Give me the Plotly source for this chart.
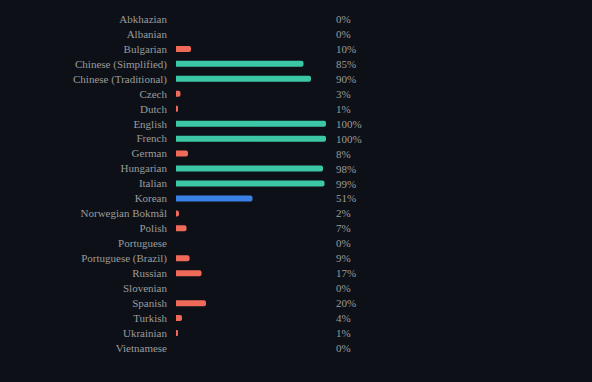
import plotly.graph_objects as go

languages = ["Abkhazian", "Albanian", "Bulgarian", "Chinese (Simplified)", "Chinese (Traditional)",
             "Czech", "Dutch", "English", "French", "German", "Hungarian", "Italian", "Korean",
             "Norwegian Bokmål", "Polish", "Portuguese", "Portuguese (Brazil)", "Russian",
             "Slovenian", "Spanish", "Turkish", "Ukrainian", "Vietnamese"]
percent = [0, 0, 10, 85, 90, 3, 1, 100, 100, 8, 98, 99, 51, 2, 7, 0, 9, 17, 0, 20, 4, 1, 0]

def color_for(p):
    if p >= 80:
        return "#3cc8a6"
    if p >= 50:
        return "#3b82e6"
    return "#ef6a59"

colors = [color_for(p) for p in percent]
BG = "#0d1117"
TXT = "#9b9b9b"
FONT = "Liberation Serif"

fig = go.Figure(go.Bar(
    x=percent, y=languages, orientation="h",
    marker=dict(color=colors, line=dict(width=0)),
    width=0.4, hoverinfo="skip",
))

for lang, p in zip(languages, percent):
    fig.add_annotation(x=1, xref="paper", y=lang, yref="y", text=f"{p}%",
                       showarrow=False, xanchor="left", xshift=8,
                       font=dict(family=FONT, size=11, color=TXT))

fig.update_layout(
    width=592, height=382,
    margin=dict(l=176, r=266, t=11, b=26),
    paper_bgcolor=BG, plot_bgcolor=BG,
    barcornerradius=3,
    showlegend=False,
    xaxis=dict(range=[0, 100], visible=False, fixedrange=True),
    yaxis=dict(autorange="reversed", showgrid=False, zeroline=False, showline=False,
               ticks="", ticklabelstandoff=8,
               tickfont=dict(family=FONT, size=11, color=TXT)),
    font=dict(family=FONT, size=11, color=TXT),
)

fig.write_html("out.html")
